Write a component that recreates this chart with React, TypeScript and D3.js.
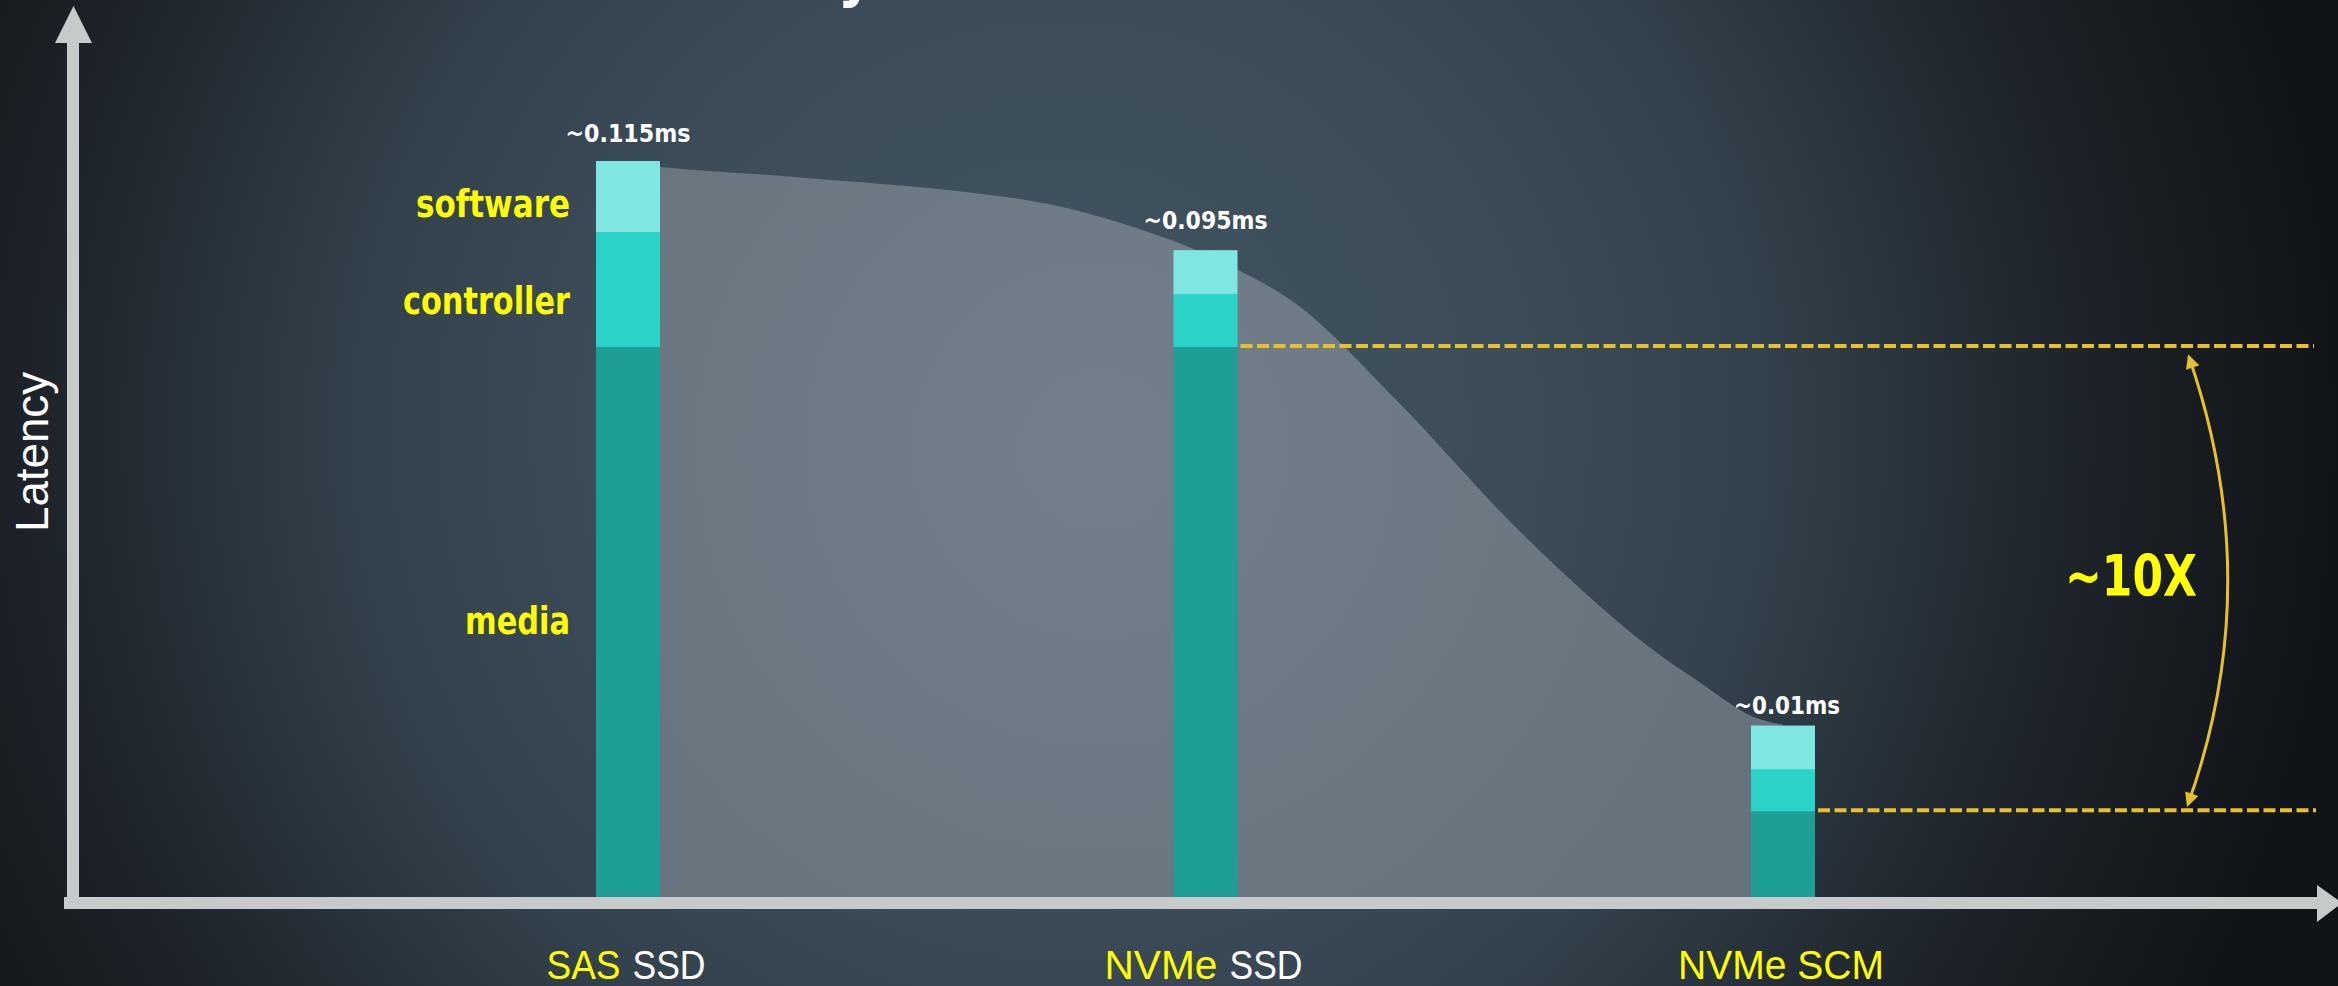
import React from "react";
import * as d3 from "d3";

// ---- data ----
const categories = ["SAS SSD", "NVMe SSD", "NVMe SCM"];
const catYellowPart = ["SAS", "NVMe", "NVMe SCM"];
const catWhitePart = ["SSD", "SSD", ""];
const media = [74.9, 74.9, 11.9];
const controller = [15.6, 7.2, 5.7];
const software = [9.5, 5.8, 5.8];
const valueLabels = ["~0.115ms", "~0.095ms", "~0.01ms"];
const segmentNames = ["media", "controller", "software"];
// latency envelope (position between categories 0..2, latency units)
const envelopeT = [0, 0.055, 0.308, 0.573, 0.75, 0.939, 1.049, 1.164, 1.33, 1.545, 1.751, 1.855, 1.945, 2];
const envelopeV = [99.7, 99.2, 97.7, 95.9, 93.8, 89.3, 85.5, 80.2, 67.6, 49.7, 35.1, 29.3, 24.7, 23.5];
const ratioLabel = "~10X";

const W = 2338;
const H = 986;

export default function App() {
  const x = d3.scalePoint<string>().domain(categories).range([628, 1783]);
  const xT = d3.scaleLinear().domain([0, 2]).range([628, 1783]);
  const y = d3.scaleLinear().domain([0, 100]).range([898, 161]);
  const barW = 64;

  const series = [media, controller, software];
  const stack = categories.map((c, i) => {
    let acc = 0;
    return series.map((s, k) => {
      const y0 = acc;
      acc += s[i];
      return { k, y0, y1: acc };
    });
  });

  const area = d3
    .area<number>()
    .x((_, i) => xT(envelopeT[i]))
    .y0(y(0))
    .y1((d) => y(d))
    .curve(d3.curveCatmullRom.alpha(0.5));

  const segColors = ["#1f9e96", "#2cd3c9", "#80e6e0"];
  const condensed = "'DejaVu Sans Condensed', 'DejaVu Sans', sans-serif";
  const sans = "'Liberation Sans', Arial, sans-serif";
  const yellow = "#ffff00";
  const gold = "#e6c12b";
  const axisCol = "#c6cacb";

  const totals = stack.map((s) => s[2].y1);
  const valueOffsets = [19, 21, 12];
  const valueWidths = [125, 124, 106];
  const segLabelWidths = [105, 167, 154];
  const segLabelShift = [12, 25, 21];

  const upperY = y(media[1]);
  const lowerY = y(media[2]);

  // category label layout (widths of the yellow / white parts, gap)
  const catYW = [74, 113, 206];
  const catWW = [73, 73, 0];
  const catGap = 12;

  return (
    <svg
      width={W}
      height={H}
      style={{ position: "absolute", left: 0, top: 0, display: "block" }}
    >
      <defs>
        <radialGradient id="bg" gradientUnits="userSpaceOnUse" cx="1060" cy="430" r="1280">
          <stop offset="0" stopColor="#425462" />
          <stop offset="0.35" stopColor="#3c4c59" />
          <stop offset="0.55" stopColor="#33414c" />
          <stop offset="0.8" stopColor="#1d2329" />
          <stop offset="1" stopColor="#111417" />
        </radialGradient>
        <radialGradient id="gray" gradientUnits="userSpaceOnUse" cx="1100" cy="450" r="700">
          <stop offset="0" stopColor="#737f8a" />
          <stop offset="1" stopColor="#66727c" />
        </radialGradient>
        <marker
          id="ah"
          viewBox="0 0 10 10"
          refX="8"
          refY="5"
          markerWidth="16"
          markerHeight="14"
          markerUnits="userSpaceOnUse"
          orient="auto-start-reverse"
        >
          <path d="M0,0 L10,5 L0,10 Z" fill={gold} />
        </marker>
      </defs>
      <rect width={W} height={H} fill="url(#bg)" />

      {/* cut-off title glyph */}
      <text
        x={856}
        y={-5}
        textAnchor="middle"
        fill="#ffffff"
        fontFamily={condensed}
        fontWeight="bold"
        fontSize={62}
      >
        y
      </text>

      {/* envelope */}
      <path d={area(envelopeV) || ""} fill="url(#gray)" />

      {/* dashed reference lines */}
      <line
        x1={(x(categories[1]) as number) + barW / 2 + 3}
        x2={2314}
        y1={upperY}
        y2={upperY}
        stroke={gold}
        strokeWidth={4}
        strokeDasharray="12 4.5"
      />
      <line
        x1={(x(categories[2]) as number) + barW / 2 + 3}
        x2={2316}
        y1={lowerY}
        y2={lowerY}
        stroke={gold}
        strokeWidth={4}
        strokeDasharray="12 4.5"
      />

      {/* bars */}
      {stack.map((segs, i) =>
        segs.map((s) => (
          <rect
            key={`${i}-${s.k}`}
            x={(x(categories[i]) as number) - barW / 2}
            width={barW}
            y={y(s.y1)}
            height={y(s.y0) - y(s.y1) + 1}
            fill={segColors[s.k]}
          />
        ))
      )}

      {/* value labels */}
      {categories.map((c, i) => (
        <text
          key={c}
          x={(x(c) as number) + (i === 2 ? 4 : 0)}
          y={y(totals[i]) - valueOffsets[i]}
          textAnchor="middle"
          fill="#ffffff"
          fontFamily={condensed}
          fontWeight="bold"
          fontSize={24}
          textLength={valueWidths[i]}
          lengthAdjust="spacingAndGlyphs"
        >
          {valueLabels[i]}
        </text>
      ))}

      {/* segment labels on first bar */}
      {stack[0].map((s) => (
        <text
          key={segmentNames[s.k]}
          x={(x(categories[0]) as number) - barW / 2 - 26}
          y={(y(s.y0) + y(s.y1)) / 2 + segLabelShift[s.k]}
          textAnchor="end"
          fill={yellow}
          fontFamily={condensed}
          fontWeight="bold"
          fontSize={37}
          textLength={segLabelWidths[s.k]}
          lengthAdjust="spacingAndGlyphs"
        >
          {segmentNames[s.k]}
        </text>
      ))}

      {/* axes */}
      <rect x={67} y={43} width={12} height={866} fill={axisCol} />
      <polygon points="55,43 92,43 73.5,6" fill={axisCol} />
      <rect x={64} y={897} width={2254} height={12} fill={axisCol} />
      <polygon points="2317,885 2317,922 2342,903" fill={axisCol} />

      {/* axis title */}
      <text
        transform="translate(48,452) rotate(-90)"
        textAnchor="middle"
        fill="#ffffff"
        fontFamily={sans}
        fontSize={46}
        textLength={160}
        lengthAdjust="spacingAndGlyphs"
      >
        Latency
      </text>

      {/* category labels */}
      {categories.map((c, i) => {
        const total = catYW[i] + (catWW[i] ? catGap + catWW[i] : 0);
        const left = (x(c) as number) - 2 - total / 2;
        return (
          <g key={c}>
            <text
              x={left}
              y={979}
              fill={yellow}
              fontFamily={sans}
              fontSize={41}
              textLength={catYW[i]}
              lengthAdjust="spacingAndGlyphs"
            >
              {catYellowPart[i]}
            </text>
            {catWW[i] ? (
              <text
                x={left + catYW[i] + catGap}
                y={979}
                fill="#ffffff"
                fontFamily={sans}
                fontSize={41}
                textLength={catWW[i]}
                lengthAdjust="spacingAndGlyphs"
              >
                {catWhitePart[i]}
              </text>
            ) : null}
          </g>
        );
      })}

      {/* ratio arrow */}
      <path
        d={`M2189,${upperY + 11} Q2267,${(upperY + lowerY) / 2 + 5} 2188,${lowerY - 6}`}
        fill="none"
        stroke={gold}
        strokeWidth={3}
        markerStart="url(#ah)"
        markerEnd="url(#ah)"
      />
      <text
        x={2131}
        y={596}
        textAnchor="middle"
        fill={yellow}
        fontFamily={condensed}
        fontWeight="bold"
        fontSize={57}
        textLength={132}
        lengthAdjust="spacingAndGlyphs"
      >
        {ratioLabel}
      </text>
    </svg>
  );
}
